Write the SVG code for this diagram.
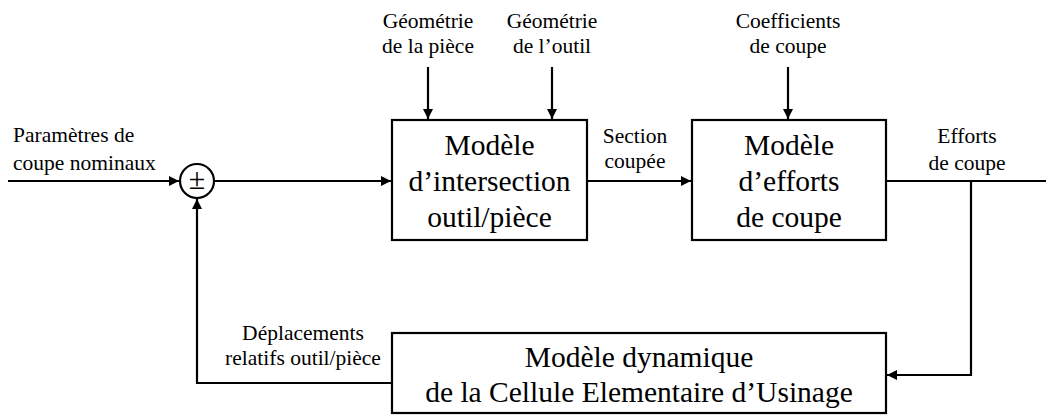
<svg xmlns="http://www.w3.org/2000/svg" width="1046" height="416" viewBox="0 0 1046 416">
  <style>
    .box { fill: #ffffff; stroke: #000000; stroke-width: 2.2; }
    .wire { fill: none; stroke: #000000; stroke-width: 2.2; }
    .lbl { font-family: "Liberation Serif", "Times New Roman", serif; font-size: 21.5px; fill: #000000; text-anchor: middle; }
    .lbl-l { font-family: "Liberation Serif", "Times New Roman", serif; font-size: 21.5px; fill: #000000; text-anchor: start; }
    .big { font-family: "Liberation Serif", "Times New Roman", serif; font-size: 29.5px; fill: #000000; text-anchor: middle; }
    .pm { font-family: "Liberation Serif", "Times New Roman", serif; font-size: 30px; fill: #000000; text-anchor: middle; }
  </style>
  <defs>
    <marker id="arrow" viewBox="0 0 10 10" refX="10" refY="5" markerWidth="10" markerHeight="10" markerUnits="userSpaceOnUse" orient="auto">
      <path d="M0,0 L10,5 L0,10 Z" fill="#000000"/>
    </marker>
  </defs>
  <rect width="1046" height="416" fill="#ffffff"/>

  <!-- connectors -->
  <g id="connectors">
    <path class="wire" d="M8,181 H179" marker-end="url(#arrow)"/>
    <path class="wire" d="M214,181 H391" marker-end="url(#arrow)"/>
    <path class="wire" d="M587,181 H691" marker-end="url(#arrow)"/>
    <path class="wire" d="M886,181 H1046"/>
    <path class="wire" d="M971,181 V375 H887" marker-end="url(#arrow)"/>
    <path class="wire" d="M392,383 H197 V199" marker-end="url(#arrow)"/>
    <path class="wire" d="M428,67 V119" marker-end="url(#arrow)"/>
    <path class="wire" d="M552,67 V119" marker-end="url(#arrow)"/>
    <path class="wire" d="M788,67 V119" marker-end="url(#arrow)"/>
  </g>

  <!-- summing junction -->
  <g id="sum">
    <circle cx="197" cy="181" r="17" class="box"/>
    <text x="197" y="189" class="pm">±</text>
  </g>

  <g id="intersection">
    <rect x="392" y="120" width="195" height="120" class="box"/>
    <text x="489.5" y="155" class="big">Modèle</text>
    <text x="489.5" y="191" class="big">d’intersection</text>
    <text x="489.5" y="227" class="big">outil/pièce</text>
  </g>

  <g id="efforts">
    <rect x="692" y="120" width="194" height="120" class="box"/>
    <text x="789" y="155" class="big">Modèle</text>
    <text x="789" y="191" class="big">d’efforts</text>
    <text x="789" y="227" class="big">de coupe</text>
  </g>

  <g id="dynamique">
    <rect x="392" y="333" width="494" height="80" class="box"/>
    <text x="639" y="367" class="big">Modèle dynamique</text>
    <text x="639" y="402" class="big">de la Cellule Elementaire d’Usinage</text>
  </g>

  <!-- signal labels -->
  <g id="labels">
    <text x="13" y="142" class="lbl-l">Paramètres de</text>
    <text x="13" y="170" class="lbl-l">coupe nominaux</text>
    <text x="428" y="28" class="lbl">Géométrie</text>
    <text x="428" y="53" class="lbl">de la pièce</text>
    <text x="552" y="28" class="lbl">Géométrie</text>
    <text x="552" y="53" class="lbl">de l’outil</text>
    <text x="788" y="28" class="lbl">Coefficients</text>
    <text x="788" y="53" class="lbl">de coupe</text>
    <text x="635" y="143" class="lbl">Section</text>
    <text x="635" y="168" class="lbl">coupée</text>
    <text x="967" y="143" class="lbl">Efforts</text>
    <text x="967" y="170" class="lbl">de coupe</text>
    <text x="303" y="340" class="lbl">Déplacements</text>
    <text x="303" y="365" class="lbl">relatifs outil/pièce</text>
  </g>
</svg>
